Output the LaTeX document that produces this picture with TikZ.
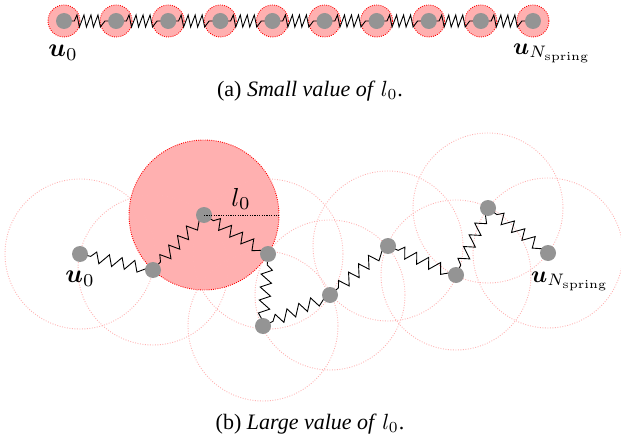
\documentclass[tikz,border=0pt]{standalone}
\usepackage{amsmath}
\usepackage{amsbsy}
\usepackage[no-math]{fontspec}
\setmainfont{Liberation Serif}
\usetikzlibrary{decorations,backgrounds}
\pgfdeclaredecoration{skewspring}{start}{
  \state{start}[width=.38\pgfdecorationsegmentlength,next state=rise]{}
  \state{rise}[width=.35\pgfdecorationsegmentlength,next state=fall]{\pgfpathlineto{\pgfqpoint{0pt}{\pgfdecorationsegmentamplitude}}}
  \state{fall}[width=.65\pgfdecorationsegmentlength,next state=rise]{\pgfpathlineto{\pgfqpoint{0pt}{-\pgfdecorationsegmentamplitude}}}
  \state{final}{\pgfpathlineto{\pgfpointdecoratedpathlast}}
}
\definecolor{softred}{RGB}{255,176,176}
\tikzset{
  mass/.style={circle,fill=black!42,inner sep=0pt,minimum size=16pt},
  springa/.style={line width=.9pt,decorate,decoration={skewspring,segment length=7pt,amplitude=6pt,pre length=10.3pt,post length=10pt}},
  springb/.style={line width=.9pt,decorate,decoration={skewspring,segment length=13pt,amplitude=5.5pt,pre length=11pt,post length=4pt}},
  active/.style={draw=red,fill=softred,dash pattern=on .9pt off 1.3pt,line width=.9pt},
  ghost/.style={draw=red!30,dash pattern=on .9pt off 1.6pt,line width=.9pt},
  label/.style={scale=2.6,inner sep=0pt},
  longlabel/.style={scale=2.38,inner sep=0pt},
  capt/.style={scale=2.2,inner sep=0pt}
}
\begin{document}
\begin{tikzpicture}[x=1pt,y=-1pt]
\useasboundingbox (0,0) rectangle (621,441);
% top chain
\foreach \i in {0,...,9} \node[mass] (a\i) at ({64+52.11*\i},21) {};
\begin{scope}[on background layer]
  \foreach \i in {0,...,9} \path[active] (a\i.center) circle[radius=16];
  \foreach \i [remember=\i as \j (initially 0)] in {1,...,9} \draw[springa] (a\j.center) -- (a\i.center);
\end{scope}
\node[label] at (63,53) {$\boldsymbol{u}_0$};
\node[longlabel] at (552,53) {$\boldsymbol{u}_{N_{\mathrm{spring}}}$};
\node[capt] at (310,91) {(a) \textit{Small value of} $l_0$.};
% bottom chain
\foreach \i/\x/\y in {0/80/254,1/153/270,2/204/215,3/268/254,4/263/326,5/330/295,6/388/246,7/456/275,8/488/208,9/548/253}
  \node[mass] (b\i) at (\x,\y) {};
\coordinate (r) at (279,215);
\begin{scope}[on background layer]
  \path[active] (b2.center) circle[radius=75];
  \foreach \i in {0,1,3,4,5,6,7,8,9} \path[ghost] (b\i.center) circle[radius=75];
  \foreach \i [remember=\i as \j (initially 0)] in {1,...,9} \draw[springb] (b\j.center) -- (b\i.center);
\end{scope}
\draw[dash pattern=on 1.2pt off 1.2pt,line width=.9pt] (b2.center) -- (r);
\node[label] at (241,199) {$l_0$};
\node[label] at (80,279) {$\boldsymbol{u}_0$};
\node[longlabel] at (570,281) {$\boldsymbol{u}_{N_{\mathrm{spring}}}$};
\node[capt] at (310,424) {(b) \textit{Large value of} $l_0$.};
\end{tikzpicture}
\end{document}
